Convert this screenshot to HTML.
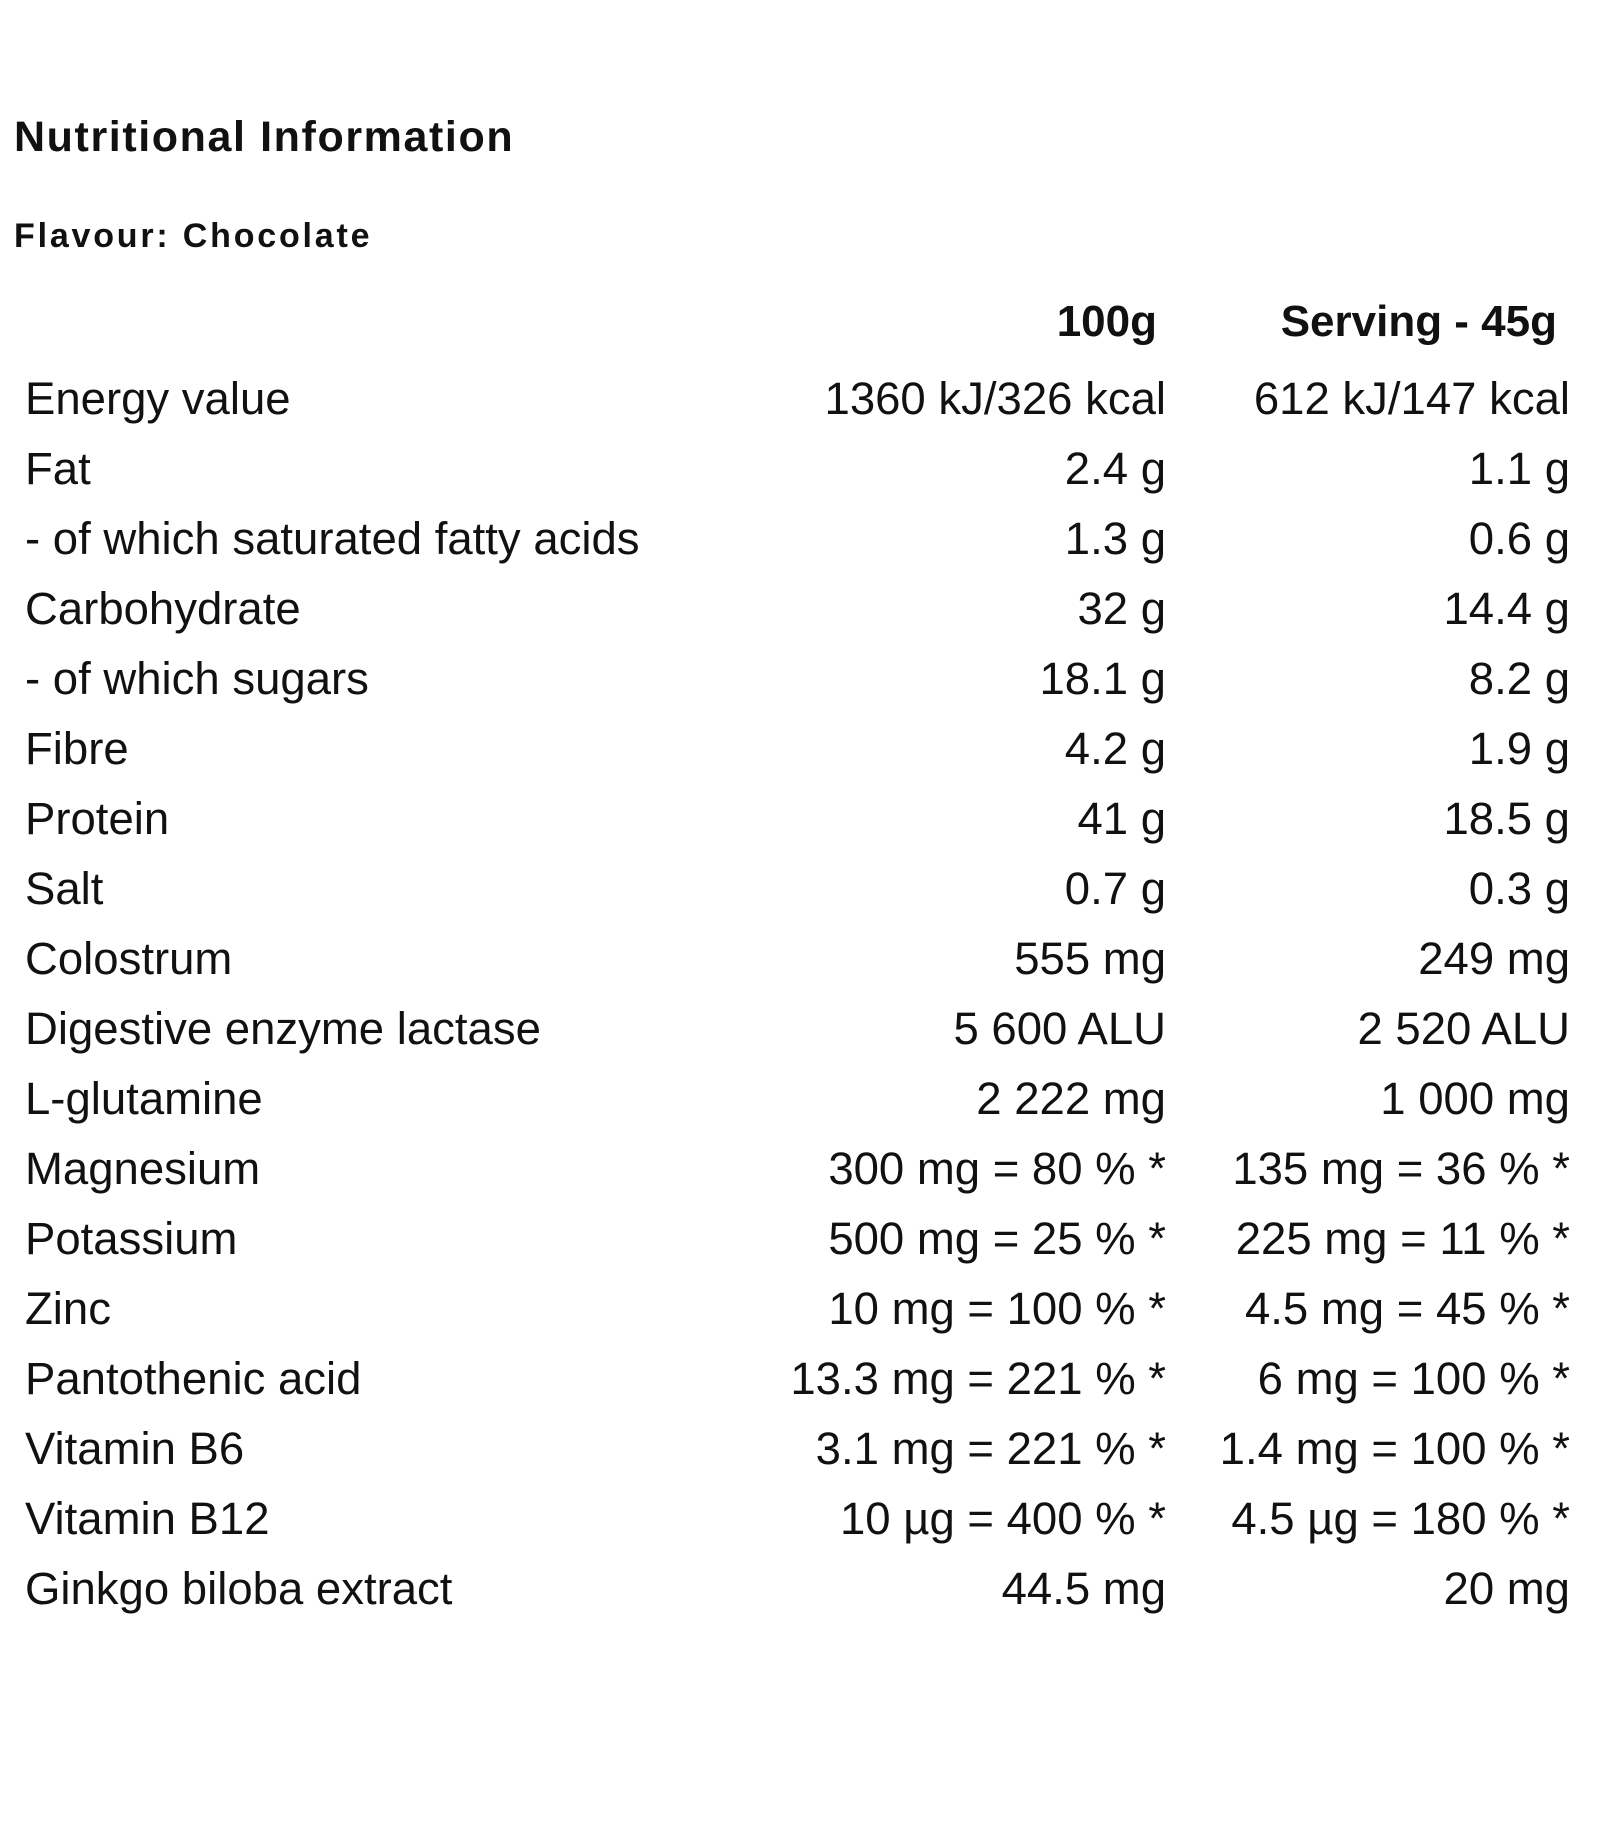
<!DOCTYPE html>
<html><head><meta charset="utf-8"><style>
body{margin:0;width:1600px;height:1840px;background:#fff;position:relative;font-family:"Liberation Sans",Arial,sans-serif;color:#111;overflow:hidden}
.t{position:absolute;line-height:1em;white-space:nowrap}
.b{font-weight:bold}
.r{text-align:right}
</style></head><body>
<div class="t b" style="left:14px;top:116px;font-size:43px;letter-spacing:1.6px">Nutritional Information</div>
<div class="t b" style="left:14px;top:219px;font-size:34px;letter-spacing:2.8px">Flavour: Chocolate</div>
<div class="t b r" style="right:443px;top:300px;font-size:44px">100g</div>
<div class="t b r" style="right:43px;top:300px;font-size:44px">Serving - 45g</div>
<div id="rows"></div>
<script>
var d=[["Energy value","1360 kJ/326 kcal","612 kJ/147 kcal"],["Fat","2.4 g","1.1 g"],["- of which saturated fatty acids","1.3 g","0.6 g"],["Carbohydrate","32 g","14.4 g"],["- of which sugars","18.1 g","8.2 g"],["Fibre","4.2 g","1.9 g"],["Protein","41 g","18.5 g"],["Salt","0.7 g","0.3 g"],["Colostrum","555 mg","249 mg"],["Digestive enzyme lactase","5 600 ALU","2 520 ALU"],["L-glutamine","2 222 mg","1 000 mg"],["Magnesium","300 mg = 80 % *","135 mg = 36 % *"],["Potassium","500 mg = 25 % *","225 mg = 11 % *"],["Zinc","10 mg = 100 % *","4.5 mg = 45 % *"],["Pantothenic acid","13.3 mg = 221 % *","6 mg = 100 % *"],["Vitamin B6","3.1 mg = 221 % *","1.4 mg = 100 % *"],["Vitamin B12","10 µg = 400 % *","4.5 µg = 180 % *"],["Ginkgo biloba extract","44.5 mg","20 mg"]];
var h="";d.forEach(function(r,i){var t=376+70*i;
h+='<div class="t" style="left:25px;top:'+t+'px;font-size:45.5px">'+r[0]+'</div>';
h+='<div class="t r" style="right:434px;top:'+t+'px;font-size:45.5px">'+r[1]+'</div>';
h+='<div class="t r" style="right:30px;top:'+t+'px;font-size:45.5px">'+r[2]+'</div>';});
document.getElementById("rows").outerHTML=h;
</script>
</body></html>
